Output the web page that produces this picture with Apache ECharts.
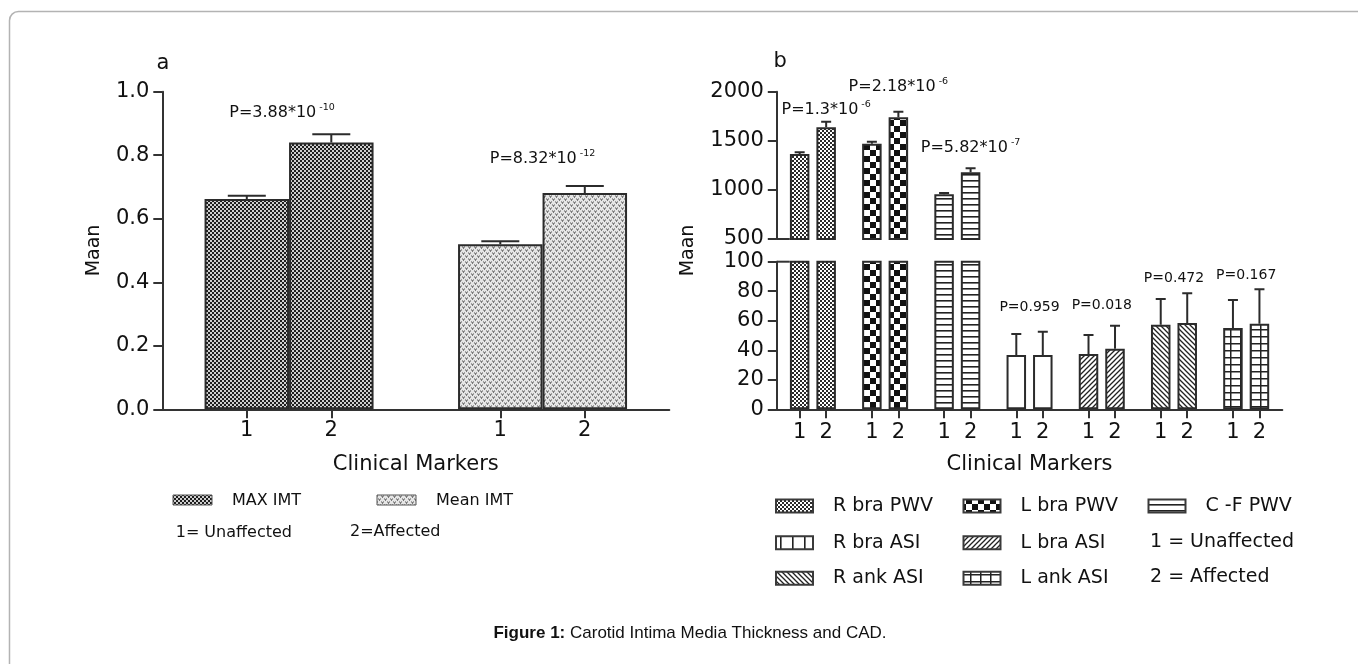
<!DOCTYPE html>
<html><head><meta charset="utf-8">
<script src="https://cdn.jsdelivr.net/npm/echarts@6/dist/echarts.min.js"></script>
<style>html,body{margin:0;padding:0;background:#fff;}#c{width:1358px;height:664px;}</style>
</head><body><div id="c"></div>
<script>
// ---------------- DATA ----------------
const groupTickLabels = ['1', '2'];
const seriesNames = ['Unaffected', 'Affected'];

// Panel a
const catsA = ['MAX IMT', 'Mean IMT'];
const unaffectedA = [0.662, 0.520];
const affectedA = [0.840, 0.681];
const errTopUnaffectedA = [0.672, 0.529];
const errTopAffectedA = [0.866, 0.703];
const pTextA = ['P=3.88*10^-10', 'P=8.32*10^-12'];
const pValueYA = [0.933, 0.788];
const keyTextA = ['1= Unaffected', '2=Affected'];

// Panel b
const catsB = ['R bra PWV', 'L bra PWV', 'C -F PWV', 'R bra ASI', 'L bra ASI', 'R ank ASI', 'L ank ASI'];
const unaffectedB = [1365, 1470, 955, 36.8, 37.5, 57.3, 55.0];
const affectedB = [1637, 1739, 1179, 36.8, 41.0, 58.4, 57.9];
const errTopUnaffectedB = [1384, 1491, 968, 51.0, 50.4, 74.7, 74.0];
const errTopAffectedB = [1694, 1796, 1220, 52.6, 56.6, 78.6, 81.3];
const pTextB = ['P=1.3*10^-6', 'P=2.18*10^-6', 'P=5.82*10^-7', 'P=0.959', 'P=0.018', 'P=0.472', 'P=0.167'];
const pValueYB = [1814, 2051, 1427, 69.3, 70.7, 89, 91];
const keyTextB = ['1 = Unaffected', '2 = Affected'];

const captionBold = 'Figure 1:';
const captionText = ' Carotid Intima Media Thickness and CAD.';

// ---------------- STYLE ----------------
const FONT = 'DejaVu Sans';
const INK = '#111';
const AX = '#333';

function mk(w, h, draw) {
  const c = document.createElement('canvas'); c.width = w; c.height = h;
  const g = c.getContext('2d'); g.fillStyle = '#fff'; g.fillRect(0, 0, w, h); draw(g, w, h); return c;
}
function pat(c) { return { image: c, repeat: 'repeat' }; }
const tiles = {
  maxImt: mk(4, 4, g => { g.fillStyle = '#cfcfcf'; g.fillRect(0, 0, 4, 4); g.fillStyle = '#1e1e1e'; g.fillRect(0, 0, 2, 2); g.fillRect(2, 2, 2, 2); }),
  meanImt: mk(6, 6, g => { g.fillStyle = '#e6e6e6'; g.fillRect(0, 0, 6, 6); g.strokeStyle = '#555'; g.lineWidth = 1; g.beginPath();
    g.moveTo(0.5, 0.5); g.lineTo(1.5, 2.5); g.lineTo(2.5, 0.5); g.moveTo(3.5, 3.5); g.lineTo(4.5, 5.5); g.lineTo(5.5, 3.5); g.stroke(); }),
  rbraPwv: mk(4, 4, g => { g.fillStyle = '#2a2a2a'; g.fillRect(0, 0, 2, 2); g.fillRect(2, 2, 2, 2); }),
  lbraPwv: mk(12, 12, g => { g.fillStyle = '#111'; g.fillRect(0, 0, 6, 6); g.fillRect(6, 6, 6, 6); }),
  cfPwv: mk(6, 6, g => { g.fillStyle = '#222'; g.fillRect(0, 0, 6, 1.6); }),
  plain: mk(4, 4, g => {}),
  vlines: mk(12, 12, g => { g.fillStyle = '#222'; g.fillRect(0, 0, 1.6, 12); }),
  fwd: mk(5, 5, g => { g.strokeStyle = '#222'; g.lineWidth = 1.3; g.beginPath();
    g.moveTo(-1, 6); g.lineTo(6, -1); g.moveTo(-1, 1); g.lineTo(1, -1); g.moveTo(4, 6); g.lineTo(6, 4); g.stroke(); }),
  back: mk(5, 5, g => { g.strokeStyle = '#222'; g.lineWidth = 1.3; g.beginPath();
    g.moveTo(-1, -1); g.lineTo(6, 6); g.moveTo(4, -1); g.lineTo(6, 1); g.moveTo(-1, 4); g.lineTo(1, 6); g.stroke(); }),
  grid: mk(10, 7, g => { g.fillStyle = '#222'; g.fillRect(0, 0, 10, 1.5); g.fillRect(0, 0, 1.5, 7); })
};
const fillA = [pat(tiles.maxImt), pat(tiles.meanImt)];
const fillB = [pat(tiles.rbraPwv), pat(tiles.lbraPwv), pat(tiles.cfPwv), pat(tiles.plain), pat(tiles.fwd), pat(tiles.back), pat(tiles.grid)];
const keyFillB = [pat(tiles.rbraPwv), pat(tiles.lbraPwv), pat(tiles.cfPwv), pat(tiles.vlines), pat(tiles.fwd), pat(tiles.back), pat(tiles.grid)];

// layout
const gA = { left: 162.3, top: 91.7, width: 507, height: 317.6 };
const gBU = { left: 776.8, top: 91.7, width: 505.5, height: 147.3 };
const gBL = { left: 776.8, top: 261.7, width: 505.5, height: 147.6 };
const gBN = { left: 776.8, top: 91.7, width: 505.5, height: 317.6 };
const barWA = 84.5, gapA = 0;
const barWB = 19.5, gapB = 7;
const catWA = gA.width / catsA.length, catWB = gBL.width / catsB.length;
const offA = (barWA + gapA) / 2, offB = (barWB + gapB) / 2;
const tickValsA = catsA.flatMap((_, i) => [i - offA / catWA, i + offA / catWA]);
const tickValsB = catsB.flatMap((_, i) => [i - offB / catWB, i + offB / catWB]);
const tickFmt = v => groupTickLabels[(v - Math.round(v)) < 0 ? 0 : 1];

function supFmt(t) {
  const p = t.split('^');
  return p.length > 1 ? '{b|' + p[0] + '}{s| ' + p[1] + '}' : '{b|' + p[0] + '}';
}

const tickStyle = { show: true, inside: false, length: 9, lineStyle: { color: AX, width: 2 } };
const lineStyle = { show: true, onZero: false, lineStyle: { color: AX, width: 2 } };

function yAxis(gi, min, max, interval, fmt) {
  return { type: 'value', gridIndex: gi, min, max, interval, splitLine: { show: false },
    axisLine: lineStyle, axisTick: tickStyle,
    axisLabel: { color: INK, fontSize: 21, fontFamily: FONT, margin: 13, formatter: fmt } };
}
function catAxis(gi, cats, showLine) {
  return { type: 'category', gridIndex: gi, data: cats, axisLine: showLine ? lineStyle : { show: false, onZero: false },
    axisTick: { show: false }, axisLabel: { show: false }, splitLine: { show: false } };
}
function tickAxis(gi, n, vals, margin) {
  return { type: 'value', gridIndex: gi, min: -0.5, max: n - 0.5, position: 'bottom',
    axisLine: { show: false, onZero: false }, splitLine: { show: false },
    axisTick: Object.assign({ customValues: vals }, tickStyle),
    axisLabel: { customValues: vals, formatter: tickFmt, color: INK, fontSize: 21, fontFamily: FONT, margin },
    name: 'Clinical Markers', nameLocation: 'middle', nameGap: 45,
    nameTextStyle: { color: INK, fontSize: 21, fontFamily: FONT } };
}

function bars(name, xi, yi, vals, fills, bw, gap) {
  return { type: 'bar', name, xAxisIndex: xi, yAxisIndex: yi, barWidth: bw, barGap: (gap / bw * 100) + '%',
    clip: true, silent: true,
    data: vals.map((v, i) => ({ value: v, itemStyle: { color: fills[i], borderColor: '#2b2b2b', borderWidth: 2 } })) };
}
function errs(xi, yi, means, tops, dx, capW) {
  return { type: 'custom', xAxisIndex: xi, yAxisIndex: yi, clip: true, silent: true, z: 5,
    encode: { x: 0, y: [1, 2] },
    data: means.map((m, i) => [i, m, tops[i]]),
    renderItem: (params, api) => {
      const base = api.coord([api.value(0), api.value(1)]);
      const top = api.coord([api.value(0), api.value(2)]);
      const x = base[0] + dx;
      const st = { stroke: '#2b2b2b', lineWidth: 2 };
      return { type: 'group', children: [
        { type: 'line', shape: { x1: x, y1: base[1], x2: x, y2: top[1] }, style: st },
        { type: 'line', shape: { x1: x - capW / 2, y1: top[1], x2: x + capW / 2, y2: top[1] }, style: st }
      ] };
    } };
}
function plabels(xi, yi, texts, ys, keep, size, dxFn) {
  return { type: 'scatter', xAxisIndex: xi, yAxisIndex: yi, symbolSize: 0, clip: false, silent: true, z: 6,
    itemStyle: { opacity: 1 },
    data: texts.map((t, i) => keep(i) ? { value: [i, ys[i]], label: { offset: [dxFn(i), 0] } } : null).filter(Boolean),
    label: { show: true, position: 'inside', color: INK, fontFamily: FONT, opacity: 1,
      formatter: p => supFmt(texts[p.data.value[0]]),
      rich: { b: { fontSize: size, fontFamily: FONT, color: INK, lineHeight: size + 5 },
              s: { fontSize: 9.5, fontFamily: FONT, color: INK, verticalAlign: 'top', lineHeight: 10 } } } };
}

// ---------------- GRAPHICS (frame, panel letters, legends, caption) ----------------
const graphics = [];
graphics.push({ type: 'rect', silent: true, shape: { x: 9.5, y: 11.5, width: 1420, height: 700, r: 9 },
  style: { fill: 'none', stroke: '#b3b3b3', lineWidth: 1.5 } });
function txt(x, y, text, size, extra) {
  return Object.assign({ type: 'text', x, y, silent: true,
    style: { text, fontSize: size, fontFamily: FONT, fill: INK, align: 'left', verticalAlign: 'middle', textAlign: 'left', textVerticalAlign: 'middle' } }, extra || {});
}
graphics.push(txt(156.5, 64, 'a', 21));
graphics.push(txt(773.5, 62, 'b', 21));
// break marks of panel b axis
[gBU.top + gBU.height, gBL.top].forEach(y => graphics.push({ type: 'line', silent: true,
  shape: { x1: gBU.left, y1: y, x2: gBU.left + 13, y2: y }, style: { stroke: AX, lineWidth: 2 } }));
// legend a
const keyAx = [173, 377];
catsA.forEach((c, i) => {
  graphics.push({ type: 'rect', silent: true, shape: { x: keyAx[i], y: 495, width: 39, height: 10 },
    style: { fill: fillA[i], stroke: '#555', lineWidth: 1 } });
  graphics.push(txt(keyAx[i] + 59, 500.5, c, 16));
});
graphics.push(txt(175.7, 533, keyTextA[0], 16));
graphics.push(txt(350, 531.5, keyTextA[1], 16));
// legend b (3 columns)
const keyBx = [776, 963.5, 1148.5], keyBy = [506, 542.7, 578.3];
const keyBpos = [[0, 0], [1, 0], [2, 0], [0, 1], [1, 1], [0, 2], [1, 2]];
catsB.forEach((c, i) => {
  const x = keyBx[keyBpos[i][0]], y = keyBy[keyBpos[i][1]];
  graphics.push({ type: 'rect', silent: true, shape: { x, y: y - 6.5, width: 37, height: 13 },
    style: { fill: keyFillB[i], stroke: '#3a3a3a', lineWidth: 2 } });
  graphics.push(txt(x + 57, y, c, 19));
});
graphics.push(txt(1150, 542, keyTextB[0], 19));
graphics.push(txt(1150, 577.5, keyTextB[1], 19));
// caption
graphics.push({ type: 'text', x: 690, y: 633, silent: true,
  style: { text: '{b|' + captionBold + '}{n|' + captionText + '}', align: 'center', verticalAlign: 'middle',
    textAlign: 'center', textVerticalAlign: 'middle',
    rich: { b: { fontWeight: 'bold', fontSize: 17, fontFamily: 'Liberation Sans', fill: '#111', color: '#111' },
            n: { fontSize: 17, fontFamily: 'Liberation Sans', fill: '#111', color: '#111' } } } });

// ---------------- OPTION ----------------
const option = {
  animation: false,
  backgroundColor: '#fff',
  textStyle: { fontFamily: FONT },
  grid: [gA, gBU, gBL, gBN].map(g => Object.assign({ containLabel: false }, g)),
  xAxis: [
    catAxis(0, catsA, true),                 // 0
    tickAxis(0, catsA.length, tickValsA, 11),// 1
    Object.assign(catAxis(1, catsB, false), { show: false }), // 2
    catAxis(2, catsB, true),                 // 3
    tickAxis(2, catsB.length, tickValsB, 13),// 4
    Object.assign(catAxis(3, catsB, false), { show: false })  // 5
  ],
  yAxis: [
    Object.assign(yAxis(0, 0, 1, 0.2, v => v.toFixed(1)), { name: 'Maan', nameLocation: 'middle', nameGap: 59, nameRotate: 90,
      nameTextStyle: { color: INK, fontSize: 19, fontFamily: FONT } }),
    yAxis(1, 500, 2000, 500, v => String(v)),
    yAxis(2, 0, 100, 20, v => String(v)),
    { type: 'value', gridIndex: 3, min: 0, max: 1, axisLine: { show: false, onZero: false }, axisTick: { show: false }, axisLabel: { show: false },
      splitLine: { show: false }, name: 'Maan', nameLocation: 'middle', nameGap: 79, nameRotate: 90,
      nameTextStyle: { color: INK, fontSize: 19, fontFamily: FONT } }
  ],
  series: [
    bars(seriesNames[0], 0, 0, unaffectedA, fillA, barWA, gapA),
    bars(seriesNames[1], 0, 0, affectedA, fillA, barWA, gapA),
    errs(0, 0, unaffectedA, errTopUnaffectedA, -offA, 38),
    errs(0, 0, affectedA, errTopAffectedA, offA, 38),
    plabels(0, 0, pTextA, pValueYA, () => true, 16, i => (i === 0 ? -7 : 0)),

    bars(seriesNames[0], 2, 1, unaffectedB, fillB, barWB, gapB),
    bars(seriesNames[1], 2, 1, affectedB, fillB, barWB, gapB),
    errs(2, 1, unaffectedB, errTopUnaffectedB, -offB, 10),
    errs(2, 1, affectedB, errTopAffectedB, offB, 10),
    plabels(2, 1, pTextB, pValueYB, i => pValueYB[i] > 100, 16, () => offB),

    bars(seriesNames[0], 3, 2, unaffectedB, fillB, barWB, gapB),
    bars(seriesNames[1], 3, 2, affectedB, fillB, barWB, gapB),
    errs(3, 2, unaffectedB, errTopUnaffectedB, -offB, 10),
    errs(3, 2, affectedB, errTopAffectedB, offB, 10),
    plabels(3, 2, pTextB, pValueYB, i => pValueYB[i] <= 100, 14, () => 0)
  ],
  graphic: { elements: graphics }
};
const chart = echarts.init(document.getElementById('c'), null, { renderer: 'canvas' });
chart.setOption(option);
</script></body></html>
